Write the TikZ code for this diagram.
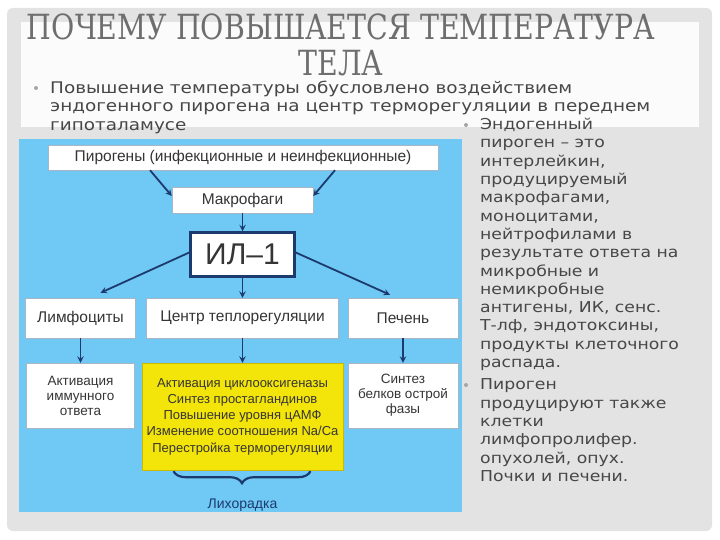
\documentclass[tikz,border=0pt]{standalone}
\usepackage{fontspec}
\setmainfont{Liberation Sans}
\newfontfamily\titlefont{DejaVu Serif}
\newfontfamily\gothicfont[FakeStretch=1.15]{DejaVu Sans}
\usetikzlibrary{decorations.pathreplacing}
\definecolor{slidegray}{HTML}{E3E3E3}
\definecolor{panelwhite}{HTML}{FBFBFB}
\definecolor{skyblue}{HTML}{70C9F4}
\definecolor{navy}{HTML}{1C3A6E}
\definecolor{boxedge}{HTML}{A8B6C4}
\definecolor{lemon}{HTML}{F3E40A}
\definecolor{lemonedge}{HTML}{C9B900}
\definecolor{titlegray}{HTML}{6E6E6E}
\definecolor{textgray}{HTML}{474747}
\definecolor{boxtext}{HTML}{353535}
\newcommand\headtext[1]{{\titlefont\fontsize{33}{40}\selectfont\scalebox{0.86}[1.05]{#1}}}
\begin{document}
\begin{tikzpicture}[x=1pt,y=-1pt,>=stealth,
  box/.style={draw=boxedge,fill=white,inner sep=0pt,align=center,text=boxtext,
    font=\fontsize{15.5}{17}\selectfont},
  smallbox/.style={box,font=\fontsize{13.5}{15}\selectfont},
  headline/.style={anchor=base,text=titlegray,inner sep=0pt},
  arr/.style={->,draw=navy,line width=1.8pt}]
  \useasboundingbox (0,0) rectangle (720,540);
  % slide
  \fill[white] (0,0) rectangle (720,540);
  \fill[slidegray,rounded corners=6pt] (7,8) rectangle (712,531);
  \fill[panelwhite] (21,22) rectangle (699,127);
  \fill[skyblue] (19,139) rectangle (462,512);
  % title
  \node[headline] (title1) at (341,40) {\headtext{ПОЧЕМУ ПОВЫШАЕТСЯ ТЕМПЕРАТУРА}};
  \node[headline] (title2) at (341,76) {\headtext{ТЕЛА}};
  % bullets
  \fill[gray!70] (36,88) circle (2);
  \fill[gray!70] (466,125) circle (2);
  \fill[gray!70] (466,385) circle (2);
  \node[anchor=north west,inner sep=0pt,align=left,text=textgray,
    font=\gothicfont\fontsize{16}{18.3}\selectfont] (intro) at (50,81)
    {Повышение температуры обусловлено воздействием\\
     эндогенного пирогена на центр терморегуляции в переднем\\
     гипоталамусе};
  \node[anchor=north west,inner sep=0pt,align=left,text=textgray,
    font=\gothicfont\fontsize{15}{18.3}\selectfont] (notes) at (480,118)
    {Эндогенный\\пироген – это\\интерлейкин,\\продуцируемый\\макрофагами,\\
     моноцитами,\\нейтрофилами в\\результате ответа на\\микробные и\\немикробные\\
     антигены, ИК, сенс.\\Т-лф, эндотоксины,\\продукты клеточного\\распада.\\[4pt]
     Пироген\\продуцируют также\\клетки\\лимфопролифер.\\опухолей, опух.\\Почки и печени.};
  % scheme
  \node[box,minimum width=390,minimum height=25] (pir) at (243,157.5) {Пирогены (инфекционные и неинфекционные)};
  \node[box,minimum width=141,minimum height=26] (mak) at (242.5,200) {Макрофаги};
  \node[box,draw=navy,line width=2.5pt,minimum width=104,minimum height=44,
    font=\fontsize{30}{32}\selectfont] (il) at (242.5,254.5) {ИЛ–1};
  \node[box,minimum width=110,minimum height=40] (lym) at (80.5,318) {Лимфоциты};
  \node[box,minimum width=192,minimum height=40] (cen) at (242.5,318) {Центр теплорегуляции};
  \node[box,minimum width=110,minimum height=40] (liv) at (403,318) {Печень};
  \node[smallbox,minimum width=108,minimum height=65] (imm) at (80.5,395.5) {Активация\\иммунного\\ответа};
  \node[smallbox,fill=lemon,draw=lemonedge,minimum width=201,minimum height=107,
    font=\fontsize{13}{16.3}\selectfont] (fev) at (242.5,416.5)
    {Активация циклооксигеназы\\Синтез простагландинов\\Повышение уровня цАМФ\\Изменение соотношения Na/Ca\\Перестройка терморегуляции};
  \node[smallbox,minimum width=110,minimum height=65] (acute) at (403,395.5) {Синтез\\белков острой\\фазы};
  \node[text=navy,font=\fontsize{14}{16}\selectfont] (fever) at (242.5,505) {Лихорадка};
  % arrows
  \draw[arr] ([xshift=-93pt]pir.south) -- ([yshift=4pt]mak.west);
  \draw[arr] ([xshift=92pt]pir.south) -- ([yshift=4pt]mak.east);
  \draw[arr] (mak) -- (il);
  \draw[arr] ([yshift=2pt]il.west) -- ([xshift=20pt,yshift=5pt]lym.north);
  \draw[arr] (il) -- (cen);
  \draw[arr] ([yshift=2pt]il.east) -- ([xshift=-13pt,yshift=3pt]liv.north);
  \draw[arr] (lym) -- (imm);
  \draw[arr] (cen) -- (fev);
  \draw[arr] (liv) -- (acute);
  \draw[navy,line width=2.2pt,decorate,decoration={brace,amplitude=12pt}]
    ([xshift=68pt,yshift=-1pt]fev.south) -- ([xshift=-69pt,yshift=-1pt]fev.south);
\end{tikzpicture}
\end{document}
